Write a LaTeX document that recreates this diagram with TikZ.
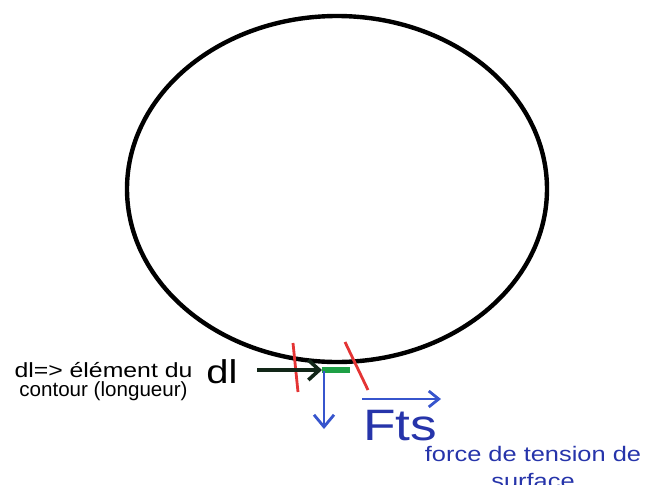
\documentclass[tikz,border=0pt]{standalone}
\usepackage{fontspec}
\setmainfont{Liberation Sans}[FakeStretch=1.21]
\usepackage{xcolor}
\usepackage{tikz}
\usetikzlibrary{arrows.meta, positioning}

\definecolor{rouge}{RGB}{228,52,52}
\definecolor{vert}{RGB}{30,160,70}
\definecolor{bleu}{RGB}{55,85,205}
\definecolor{bleufonce}{RGB}{38,52,170}
\definecolor{noirdl}{RGB}{18,38,24}

\tikzset{
    contour/.style={line width=4.4pt, black},
    trait/.style={line width=2.8pt, rouge},
    fleche/.style={line width=3.8pt, -{Straight Barb[length=11pt, width=20pt, line width=3.6pt]}},
    flechebleue/.style={line width=2.8pt, bleu, -{Straight Barb[length=12pt, width=20pt, line width=2.8pt]}},
    petit/.style={inner sep=0pt, font=\fontsize{20.5}{19.5}\selectfont, align=center},
}

\begin{document}
\begin{tikzpicture}[x=1pt, y=-1pt]
    % Cadre de l'image
    \useasboundingbox (0,0) rectangle (665,485);

    % Le contour (cercle)
    \draw[contour] (337,189) ellipse [x radius=210, y radius=173];

    % Element dl sur le contour
    \draw[trait] (293,343) -- (298,392);
    \draw[trait] (345,342) -- (368,390);
    \coordinate (dlA) at (322,370);
    \coordinate (dlB) at (350,370);
    \draw[vert, line width=6pt] (dlA) -- (dlB);

    % Textes
    \node[petit, anchor=north] (legdl) at (103.5,362) {dl=> élément du\\\scalebox{0.83}[1]{contour (longueur)}};
    \node[inner sep=0pt, anchor=base, font=\fontsize{33}{33}\selectfont] (dl) at (222,383) {dl};
    \node[inner sep=0pt, anchor=base, text=bleufonce, font=\fontsize{44}{44}\selectfont] (fts) at (400,440) {Fts};
    \node[petit, anchor=north, text=bleufonce, font=\fontsize{21}{27}\selectfont] (legfts) at (533,446) {force de tension de\\surface};

    % Fleches
    \coordinate (dldebut) at (257,370);
    \draw[fleche, noirdl] (dldebut) -- (dlA);
    \coordinate (bas) at (324,429);
    \draw[flechebleue] (324,371) -- (bas);
    \coordinate (ftsA) at (362,399);
    \coordinate (ftsB) at (441,399);
    \draw[flechebleue, -{Straight Barb[length=10pt, width=16pt, line width=2.8pt]}] (ftsA) -- (ftsB);
\end{tikzpicture}
\end{document}
